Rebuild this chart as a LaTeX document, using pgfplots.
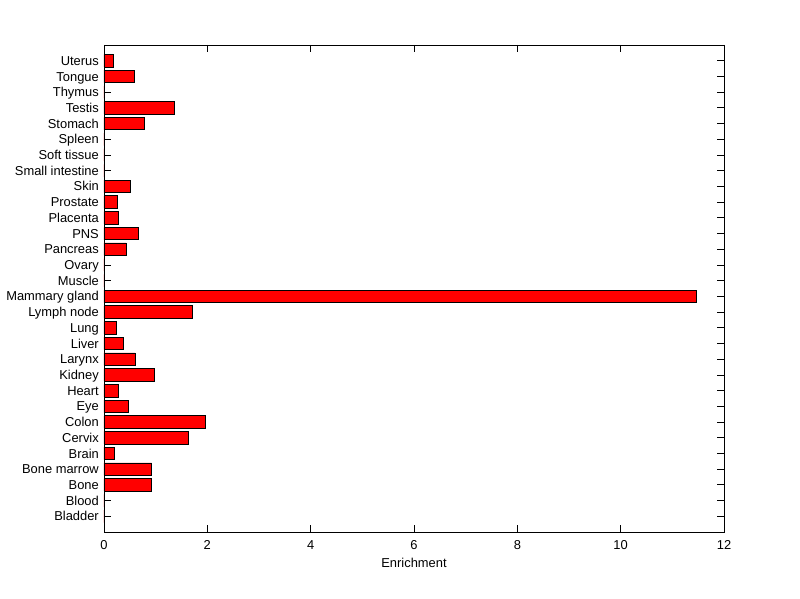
\documentclass[border=0pt]{standalone}
\usepackage{fontspec}
\setmainfont{Liberation Sans}
\usepackage{pgfplots}
\pgfplotsset{compat=1.18}
\begin{document}
\fontsize{12.9}{15}\selectfont
\begin{tikzpicture}
\path[use as bounding box] (-104pt,-67pt) rectangle (696pt,532pt);
\begin{axis}[
  at={(0,0)}, anchor=south west,
  scale only axis, width=620pt, height=487pt,
  xbar, bar width=12.5pt,
  xmin=0, xmax=12, ymin=0, ymax=31,
  xtick={0,2,...,12},
  ytick={1,...,30},
  yticklabels={Bladder,Blood,Bone,Bone marrow,Brain,Cervix,Colon,Eye,Heart,Kidney,Larynx,Liver,Lung,Lymph node,Mammary gland,Muscle,Ovary,Pancreas,PNS,Placenta,Prostate,Skin,Small intestine,Soft tissue,Spleen,Stomach,Testis,Thymus,Tongue,Uterus},
  tick pos=both,
  xtick align=inside, ytick align=inside,
  major tick length=7pt,
  tick style={black, line width=0.8pt},
  axis line style={black, line width=0.8pt},
  /pgf/number format/assume math mode=true,
  ticklabel style={font=\fontsize{12.9}{15}\selectfont},
  yticklabel style={inner sep=0pt, anchor=base east, xshift=-5pt, yshift=-4.6pt},
  xticklabel style={inner sep=0pt, yshift=-8pt},
  xlabel={Enrichment},
  xlabel style={font=\fontsize{12.9}{15}\selectfont, inner sep=0pt, yshift=-9pt},
]
\addplot[fill={rgb,255:red,255;green,0;blue,0}, draw=black, line width=0.7pt] coordinates {
(0,1) (0,2) (0.92,3) (0.92,4) (0.21,5) (1.63,6) (1.96,7) (0.48,8) (0.27,9) (0.97,10)
(0.60,11) (0.38,12) (0.23,13) (1.71,14) (11.46,15) (0,16) (0,17) (0.43,18) (0.66,19) (0.27,20)
(0.26,21) (0.51,22) (0,23) (0,24) (0,25) (0.78,26) (1.36,27) (0,28) (0.58,29) (0.18,30)
};
\end{axis}
\end{tikzpicture}
\end{document}
